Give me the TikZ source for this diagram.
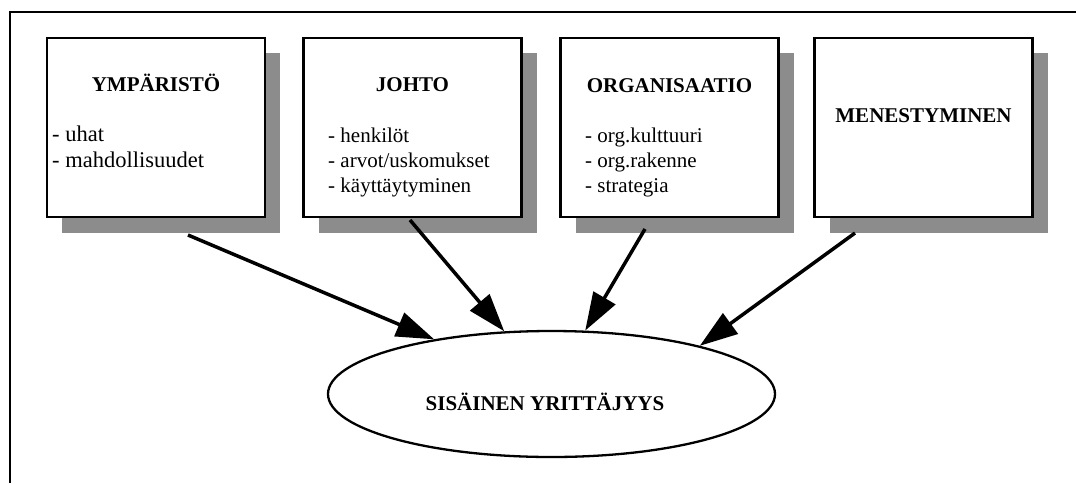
\documentclass[tikz,border=0pt]{standalone}
\usepackage{fontspec}
\setmainfont{Liberation Serif}
\usetikzlibrary{arrows.meta,shapes.geometric}

\begin{document}
\begin{tikzpicture}[x=1pt,y=-1pt,
  panel/.style={draw=black, line width=2.7pt, fill=white,
    minimum width=218pt, minimum height=179pt, inner sep=0pt},
  shade/.style={fill=black!45, draw=none},
  title/.style={font=\fontsize{21}{25}\selectfont\bfseries, anchor=base, inner sep=0pt},
  item/.style={font=\fontsize{21}{25}\selectfont, anchor=base west, inner sep=0pt},
  bigitem/.style={item, font=\fontsize{22.5}{26}\selectfont},
  link/.style={line width=3.5pt, -{Triangle[length=38pt,width=25pt]}}]

\useasboundingbox (0,0) rectangle (1076,483);

% open frame: top and left edges only
\draw[line width=2.7pt] (10,483) -- (10,12) -- (1076,12);

% four boxes with offset grey shadows
\foreach \cx/\nm in {156/b1, 412.5/b2, 669.5/b3, 923.5/b4} {
  \fill[shade] (\cx-94, 53) rectangle (\cx+124, 233);
  \node[panel] (\nm) at (\cx,127.5) {};
}

% box 1
\node[title] (t1) at (156,91) {YMPÄRISTÖ};
\node[bigitem] (i11) at (52,141) {- uhat};
\node[bigitem] (i12) at (52,167) {- mahdollisuudet};

% box 2
\node[title] (t2) at (412.5,91) {JOHTO};
\node[item] (i21) at (328,142) {- henkilöt};
\node[item] (i22) at (328,167) {- arvot/uskomukset};
\node[item] (i23) at (328,192) {- käyttäytyminen};

% box 3
\node[title] (t3) at (669.5,92) {ORGANISAATIO};
\node[item] (i31) at (585,142) {- org.kulttuuri};
\node[item] (i32) at (585,167) {- org.rakenne};
\node[item] (i33) at (585,192) {- strategia};

% box 4
\node[title] (t4) at (923.5,122) {MENESTYMINEN};

% central ellipse
\node[draw, ellipse, line width=2.3pt, fill=white, minimum width=447pt,
  minimum height=126pt, inner sep=0pt] (e) at (551.5,394) {};
\node[title] (et) at (545,410) {SISÄINEN YRITTÄJYYS};

% arrow start points under the boxes
\coordinate (s1) at (188,235);
\coordinate (s2) at (410,220);
\coordinate (s3) at (645,229);
\coordinate (s4) at (855,233);

\draw[link] (s1) -- (e.155);
\draw[link] (s2) -- (e.127);
\draw[link] (s3) -- (e.62);
\draw[link] (s4) -- (e.18.5);
\end{tikzpicture}
\end{document}
